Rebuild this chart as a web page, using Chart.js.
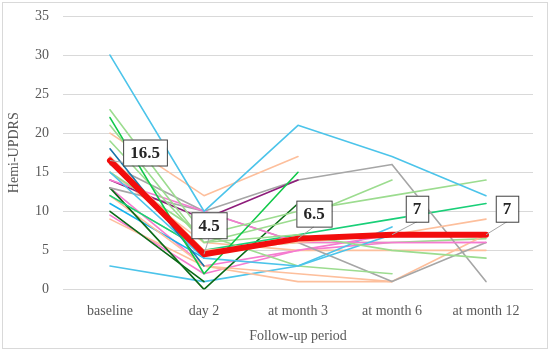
<!DOCTYPE html>
<html>
<head>
<meta charset="utf-8">
<script src="https://cdn.jsdelivr.net/npm/chart.js@4/dist/chart.umd.min.js"></script>
<style>
  html, body { margin: 0; padding: 0; background: #fff; }
  #wrap { width: 550px; height: 352px; }
</style>
</head>
<body>
<div id="wrap"><canvas id="chart" width="550" height="352"></canvas></div>
<script>
// Zeitpunkte der Nachbeobachtung
const periods = ["baseline", "day 2", "at month 3", "at month 6", "at month 12"];
const yTicks = [0, 5, 10, 15, 20, 25, 30, 35];

// Median (dicke rote Linie)
const median = [16.5, 4.5, 6.5, 7, 7];

// Einzelne Patienten (null = kein Wert)
const p01 = [30, 10, 21, 17, 12];
const p02 = [23, 7, 10, 12, 14];
const p03 = [22, 2, 15, null, null];
const p04 = [21, 6, 9, 14, null];
const p05 = [20, 12, 17, null, null];
const p06 = [19, 6, 7, 5, 4];
const p07 = [18, 3, null, null, null];
const p08 = [17, 5, 6, 7, 9];
const p09 = [15, 4, 3, 7, null];
const p10 = [15, 7, 3, 2, null];
const p11 = [14, 10, 6, 6, 6];
const p12 = [14, 9, 14, null, null];
const p13 = [16, 10, 14, 16, 1];
const p14 = [13, 10, 6, 1, 6];
const p15 = [12, 5, 7, 9, 11];
const p16 = [13, 0, 11, null, null];
const p17 = [12, 3, 1, 1, null];
const p18 = [11, 4, null, null, null];
const p19 = [10, 1, null, null, null];
const p20 = [9, 3, 2, 1, 7];
const p21 = [9.5, 2, 5, 7, 7];
const p22 = [3, 1, 3, 8, null];
const p23 = [15, 6, 5, 5, 5];
const p24 = [12, 5, 6, 6, 6.5];
const p25 = [13, 3, 5, 6, 6];

const C = {
  lightBlue: "#4cc4ea",
  peach: "#fdbf9c",
  lightGreen: "#9cdc8f",
  green: "#12c94a",
  darkGreen: "#0b6a17",
  teal: "#1b75a8",
  blue: "#18b2ee",
  pink: "#f57bd0",
  purple: "#8e1d7b",
  grey: "#a6a6a6",
  tealGreen: "#19cf78",
};

const patients = [
  [p01, C.lightBlue], [p02, C.lightGreen], [p03, C.green], [p04, C.lightGreen],
  [p05, C.peach], [p06, C.lightGreen], [p07, C.teal], [p08, C.peach],
  [p09, C.lightBlue], [p10, C.lightGreen], [p11, C.pink], [p12, C.purple],
  [p13, C.grey], [p14, C.grey], [p15, C.tealGreen], [p16, C.darkGreen],
  [p17, C.peach], [p18, C.blue], [p19, C.darkGreen], [p20, C.peach],
  [p21, C.pink], [p22, C.lightBlue], [p23, C.peach], [p24, C.lightGreen],
  [p25, C.pink],
];

const FONT = "'Liberation Serif', 'Times New Roman', serif";
const TXT = "#595959";

// Beschriftungsboxen am Median: Versatz der Box relativ zum Punkt
const labelOffsets = [[35, -8], [5, -29], [16, -25], [25, -26], [21, -26]];

const medianLabels = {
  id: "medianLabels",
  afterDatasetsDraw(chart) {
    const ctx = chart.ctx;
    const meta = chart.getDatasetMeta(0);
    ctx.save();
    ctx.font = "bold 17px " + FONT;
    ctx.textAlign = "center";
    ctx.textBaseline = "middle";
    meta.data.forEach((pt, i) => {
      const txt = String(median[i]);
      const [dx, dy] = labelOffsets[i];
      const cx = pt.x + dx, cy = pt.y + dy;
      const w = ctx.measureText(txt).width + 14, h = 26;
      // Führungslinie
      ctx.strokeStyle = "#a6a6a6";
      ctx.lineWidth = 1;
      ctx.beginPath();
      ctx.moveTo(pt.x, pt.y);
      ctx.lineTo(cx, cy + h / 2);
      ctx.stroke();
      ctx.fillStyle = "#fff";
      ctx.fillRect(cx - w / 2, cy - h / 2, w, h);
      ctx.strokeStyle = "#404040";
      ctx.strokeRect(cx - w / 2 + 0.5, cy - h / 2 + 0.5, w, h);
      ctx.fillStyle = "#262626";
      ctx.fillText(txt, cx, cy + 1);
    });
    ctx.restore();
  },
};

const frame = {
  id: "frame",
  beforeDraw(chart) {
    const ctx = chart.ctx;
    ctx.save();
    ctx.fillStyle = "#fff";
    ctx.fillRect(0, 0, chart.width, chart.height);
    ctx.strokeStyle = "#d9d9d9";
    ctx.lineWidth = 1;
    ctx.strokeRect(2.5, 2.5, chart.width - 5, chart.height - 6);
    ctx.restore();
  },
};

const datasets = [{
  data: median,
  borderColor: "#f20d0d",
  borderWidth: 6,
  order: 0,
}].concat(patients.map(([d, col]) => ({
  data: d,
  borderColor: col,
  borderWidth: 1.6,
  order: 1,
})));

new Chart(document.getElementById("chart"), {
  type: "line",
  data: { labels: periods, datasets },
  options: {
    responsive: false,
    animation: false,
    spanGaps: false,
    elements: { point: { radius: 0 }, line: { tension: 0, borderCapStyle: "round", borderJoinStyle: "round" } },
    layout: { padding: { left: 7, right: 17, top: 16, bottom: 3 } },
    plugins: { legend: { display: false }, tooltip: { enabled: false } },
    scales: {
      x: {
        offset: true,
        grid: { display: false, offset: true },
        border: { display: false },
        ticks: { color: TXT, font: { family: FONT, size: 14 }, padding: 6, maxRotation: 0 },
        title: { display: true, text: "Follow-up period", color: TXT, font: { family: FONT, size: 14 }, padding: { top: 2 } },
      },
      y: {
        min: 0, max: 35,
        afterBuildTicks: (ax) => { ax.ticks = yTicks.map((v) => ({ value: v })); },
        afterFit: (ax) => { ax.paddingTop = 0; },
        grid: { color: "#d9d9d9", drawTicks: false, lineWidth: 1 },
        border: { display: false },
        ticks: { color: TXT, font: { family: FONT, size: 14 }, padding: 14 },
        title: { display: true, text: "Hemi-UPDRS", color: TXT, font: { family: FONT, size: 14, lineHeight: 1 }, padding: 0 },
      },
    },
  },
  plugins: [frame, medianLabels],
});
</script>
</body>
</html>
